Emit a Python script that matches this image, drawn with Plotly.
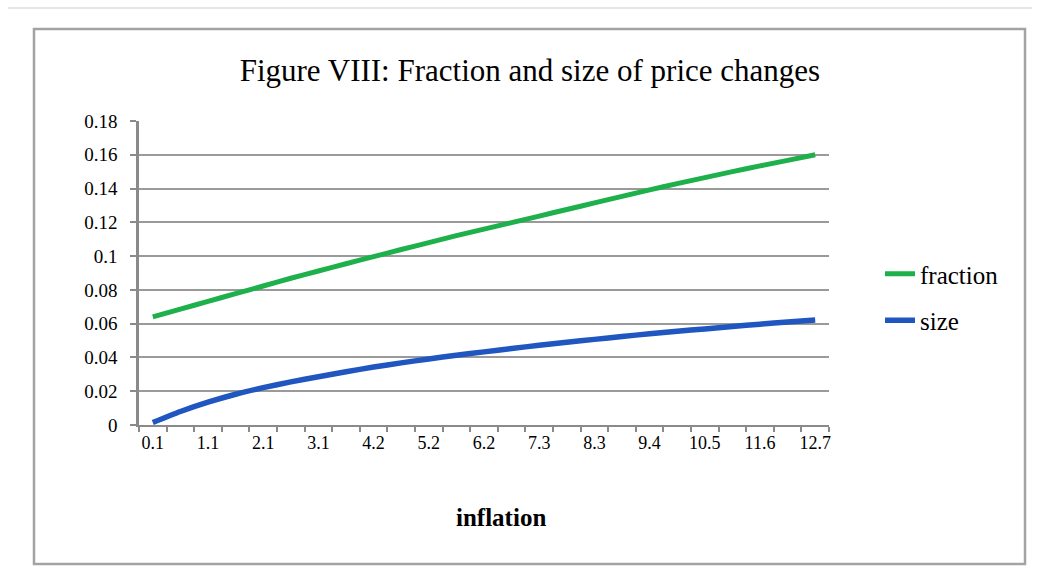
import plotly.graph_objects as go

# ---- data ----
inflation = ["0.1", "0.6", "1.1", "1.6", "2.1", "2.6", "3.1", "3.6", "4.2", "4.7",
             "5.2", "5.7", "6.2", "6.7", "7.3", "7.8", "8.3", "8.9", "9.4", "9.9",
             "10.5", "11.0", "11.6", "12.1", "12.7"]
fraction = [0.0640, 0.0686, 0.0732, 0.0778, 0.0823, 0.0869, 0.0912, 0.0955, 0.0997, 0.1039,
            0.1080, 0.1121, 0.1160, 0.1198, 0.1237, 0.1276, 0.1315, 0.1354, 0.1392, 0.1429,
            0.1465, 0.1500, 0.1534, 0.1567, 0.1600]
size = [0.0015, 0.0080, 0.0135, 0.0182, 0.0221, 0.0255, 0.0286, 0.0315, 0.0343, 0.0368,
        0.0391, 0.0413, 0.0433, 0.0453, 0.0472, 0.0490, 0.0507, 0.0524, 0.0540, 0.0555,
        0.0569, 0.0583, 0.0597, 0.0610, 0.0622]
y_ticks = [0, 0.02, 0.04, 0.06, 0.08, 0.1, 0.12, 0.14, 0.16, 0.18]
y_ticktext = ["0", "0.02", "0.04", "0.06", "0.08", "0.1", "0.12", "0.14", "0.16", "0.18"]

W, H = 1039, 586
L, R, T, B = 139, 210, 121, 161
PW, PH = W - L - R, H - T - B

def px_x(p):
    return (p - L) / PW

def px_y(p):
    return (H - B - p) / PH

FONT = "Liberation Serif"
idx = list(range(len(inflation)))

fig = go.Figure()
fig.add_trace(go.Scatter(x=idx, y=fraction, mode="lines", name="fraction",
                         legendgroup="a",
                         line=dict(color="#1DB04B", width=5, shape="spline", smoothing=0.6)))
fig.add_trace(go.Scatter(x=idx, y=size, mode="lines", name="size",
                         legendgroup="b",
                         line=dict(color="#1F56C0", width=5.5, shape="spline", smoothing=0.6)))

fig.update_layout(
    width=W, height=H,
    margin=dict(l=L, r=R, t=T, b=B),
    paper_bgcolor="white", plot_bgcolor="white",
    font=dict(family=FONT, color="#000000"),
    title=dict(text="Figure VIII: Fraction and size of price changes",
               x=0.51, xanchor="center", y=1 - 70 / H, yanchor="middle",
               yref="container",
               font=dict(family=FONT, size=31, color="#000000")),
    showlegend=True,
    legend=dict(x=px_x(880), xanchor="left", y=px_y(251), yanchor="top",
                font=dict(family=FONT, size=25, color="#000000"),
                tracegroupgap=11, bgcolor="rgba(0,0,0,0)",
                itemwidth=30),
    xaxis=dict(
        range=[-0.5, len(inflation) - 0.5],
        tickvals=idx[::2], ticktext=inflation[::2],
        ticks="", showgrid=False, zeroline=False,
        showline=True, linecolor="#8a8a8a", linewidth=2,
        tickfont=dict(family=FONT, size=18, color="#000000"),
        ticklabelstandoff=0,
        minor=dict(tickvals=[i - 0.5 for i in range(len(inflation) + 1)],
                   ticks="outside", ticklen=5, tickcolor="#8a8a8a", tickwidth=1.5,
                   showgrid=False),
        fixedrange=True,
    ),
    yaxis=dict(
        range=[0, 0.18], tickvals=y_ticks, ticktext=y_ticktext,
        ticks="outside", ticklen=6, tickcolor="#8a8a8a", tickwidth=1.5,
        showgrid=True, gridcolor="#9a9a9a", gridwidth=1.5,
        zeroline=False, showline=True, linecolor="#8a8a8a", linewidth=2.5,
        tickfont=dict(family=FONT, size=19, color="#000000"),
        ticklabelstandoff=9,
        fixedrange=True,
    ),
)

fig.add_annotation(text="<b>inflation</b>", xref="paper", yref="paper",
                   x=px_x(501), y=px_y(517), xanchor="center", yanchor="middle",
                   showarrow=False, font=dict(family=FONT, size=25, color="#000000"))

# chart frame
fig.add_shape(type="rect", xref="paper", yref="paper",
              x0=px_x(34), x1=px_x(1025), y0=px_y(564), y1=px_y(29),
              line=dict(color="#a3a3a3", width=2.5), layer="below")
# outer page edge
fig.add_shape(type="line", xref="paper", yref="paper",
              x0=px_x(8), x1=px_x(1032), y0=px_y(8), y1=px_y(8),
              line=dict(color="#dedede", width=1.5), layer="below")

fig.write_html("out.html", config={"displayModeBar": False},
               post_script="document.body.style.margin='0px';")
